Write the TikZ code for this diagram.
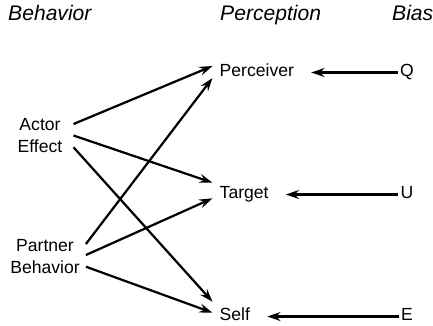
\documentclass[tikz,border=0pt]{standalone}
\usepackage{fontspec}
\setmainfont{Liberation Sans}
\usetikzlibrary{positioning,arrows.meta}

\begin{document}
\begin{tikzpicture}[
    x=0.03cm, y=-0.03cm,
    every node/.style={font=\fontsize{15}{18.5}\selectfont, inner sep=0pt},
    head/.style={font=\fontsize{18}{20}\selectfont\itshape, anchor=west, text height=0.72em, text depth=0pt},
    src/.style={align=center, inner xsep=0.33cm},
    perc/.style={anchor=west, inner xsep=0.21cm, text height=0.72em, text depth=0pt},
    bias/.style={text height=0.72em, text depth=0pt},
    arrow/.style={-{Stealth[length=4mm, width=2.7mm, inset=1.4mm]}, line width=1.9pt},
    biasarrow/.style={arrow, shorten >=0.3cm, shorten <=0.06cm}
]
    \useasboundingbox (0,0) rectangle (433,325);

    % Column headers
    \node[head] (hbeh) at (8,16.5) {Behavior};
    \node[head] (hperc) at (220,16.5) {Perception};
    \node[head] (hbias) at (392,16.5) {Bias};

    % Column 1: behavior
    \node[src] (actor) at (40,135.5) {Actor\\Effect};
    \node[src, inner xsep=0.18cm] (partner) at (45,256.7) {Partner\\Behavior};

    % Column 2: perception
    \node[perc] (perceiver) at (212.5,72.5) {Perceiver};
    \node[perc] (target) at (212.5,194.5) {Target};
    \node[perc] (self) at (212.5,316.5) {Self};

    % Column 3: bias
    \node[bias] (q) at (407,72.5) {Q};
    \node[bias] (u) at (407,194.5) {U};
    \node[bias] (e) at (407,316.5) {E};

    % Draw arrows
    \draw[arrow] ([shift={(0,-11.5)}]actor.east) -- ([shift={(0,-6.5)}]perceiver.west);
    \draw[arrow] (actor.east) -- ([shift={(0,-11.8)}]target.west);
    \draw[arrow] ([shift={(0,11.8)}]actor.east) -- ([shift={(0,-14.8)}]self.west);
    \draw[arrow] ([shift={(0,-12.7)}]partner.east) -- ([shift={(0,5.5)}]perceiver.west);
    \draw[arrow] ([shift={(0,-1.7)}]partner.east) -- ([shift={(0,3.8)}]target.west);
    \draw[arrow] ([shift={(0,10)}]partner.east) -- ([shift={(0,-3.8)}]self.west);
    \draw[biasarrow] (q.west) -- (perceiver.east);
    \draw[biasarrow] (u.west) -- (target.east);
    \draw[biasarrow] (e.west) -- (self.east);
\end{tikzpicture}
\end{document}
